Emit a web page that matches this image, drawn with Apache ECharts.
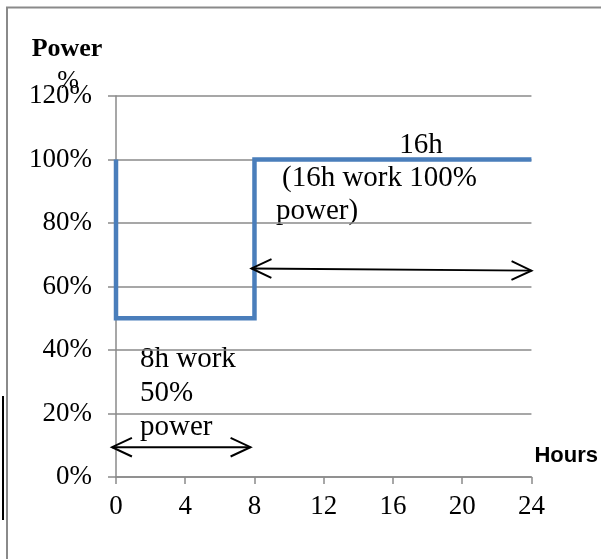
<!DOCTYPE html>
<html>
<head>
<meta charset="utf-8">
<script src="https://cdn.jsdelivr.net/npm/echarts@6/dist/echarts.min.js"></script>
<style>
  html, body { margin: 0; padding: 0; background: #fff; }
  #chart { width: 601px; height: 559px; }
</style>
</head>
<body>
<div id="chart"></div>
<script>
// power profile over a day: [hour, percent]
const hours = [0, 0, 8, 8, 24];
const power = [100, 50, 50, 100, 100];
// double arrows: [x1, y1, x2, y2] in hours / percent
const arrowFrom = [[-0.23, 9.4], [7.83, 65.7]];
const arrowTo = [[7.77, 9.4], [24, 65.0]];

const serif = '"Liberation Serif", "Times New Roman", serif';
const chart = echarts.init(document.getElementById('chart'));

function label(text, x, y, size, align, weight) {
    return {
        type: 'text',
        x: x,
        y: y,
        style: {
            text: text,
            font: (weight || 'normal') + ' ' + size + 'px ' + serif,
            fill: '#000',
            align: align || 'left',
            verticalAlign: 'middle'
        }
    };
}

const option = {
    animation: false,
    grid: { left: 116, right: 69, top: 96, bottom: 82 },
    xAxis: {
        type: 'value',
        min: 0,
        max: 24,
        interval: 4,
        name: 'Hours',
        nameLocation: 'end',
        nameGap: 3,
        nameTextStyle: {
            fontFamily: '"Liberation Sans", Arial, sans-serif',
            fontWeight: 'bold',
            fontSize: 22,
            color: '#000',
            verticalAlign: 'bottom',
            padding: [0, 0, 10, 0]
        },
        axisLine: { lineStyle: { color: '#8a8a8a', width: 1.5 } },
        axisTick: { show: true, length: 7, lineStyle: { color: '#8a8a8a', width: 1.5 } },
        axisLabel: { fontFamily: serif, fontSize: 27, color: '#000', margin: 16 },
        splitLine: { show: false }
    },
    yAxis: {
        type: 'value',
        min: 0,
        max: 120,
        interval: 20,
        axisLine: { show: true, lineStyle: { color: '#8a8a8a', width: 1.5 } },
        axisTick: { show: true, length: 8, lineStyle: { color: '#8a8a8a', width: 1.5 } },
        axisLabel: { fontFamily: serif, fontSize: 27, color: '#000', margin: 24, formatter: '{value}%' },
        splitLine: { lineStyle: { color: '#8a8a8a', width: 1.5 } }
    },
    series: [
        {
            type: 'line',
            data: hours.map((h, i) => [h, power[i]]),
            showSymbol: false,
            symbol: 'none',
            lineStyle: { color: '#4a7ebb', width: 4.5, join: 'miter' },
            z: 3
        },
        {
            type: 'custom',
            clip: false,
            data: arrowFrom.map((a, i) => [a[0], a[1], arrowTo[i][0], arrowTo[i][1]]),
            renderItem: function (params, api) {
                const p1 = api.coord([api.value(0), api.value(1)]);
                const p2 = api.coord([api.value(2), api.value(3)]);
                const ang = Math.atan2(p2[1] - p1[1], p2[0] - p1[0]);
                const len = 22, spread = 0.44;
                const head = function (p, a) {
                    return [
                        [p[0] + len * Math.cos(a + spread), p[1] + len * Math.sin(a + spread)],
                        p,
                        [p[0] + len * Math.cos(a - spread), p[1] + len * Math.sin(a - spread)]
                    ];
                };
                const st = { stroke: '#000', lineWidth: 2, fill: null };
                return {
                    type: 'group',
                    children: [
                        { type: 'line', shape: { x1: p1[0], y1: p1[1], x2: p2[0], y2: p2[1] }, style: st },
                        { type: 'polyline', shape: { points: head(p1, ang) }, style: st },
                        { type: 'polyline', shape: { points: head(p2, ang + Math.PI) }, style: st }
                    ]
                };
            },
            z: 4
        }
    ],
    graphic: [
        // frame edges
        { type: 'polyline', shape: { points: [[7, 559], [7, 7.5], [601, 7.5]] },
          style: { stroke: '#8a8a8a', lineWidth: 2, fill: null } },
        { type: 'line', shape: { x1: 3, y1: 396, x2: 3, y2: 520 },
          style: { stroke: '#000', lineWidth: 2 } },
        label('Power', 67, 49, 26, 'center', 'bold'),
        label('%', 68, 81, 26, 'center'),
        label('16h', 421, 145, 29, 'center'),
        label('(16h work 100%', 282, 178, 29),
        label('power)', 276, 211, 29),
        label('8h work', 140, 359, 29),
        label('50%', 140, 393, 29),
        label('power', 140, 427, 29)
    ]
};

chart.setOption(option);
</script>
</body>
</html>
